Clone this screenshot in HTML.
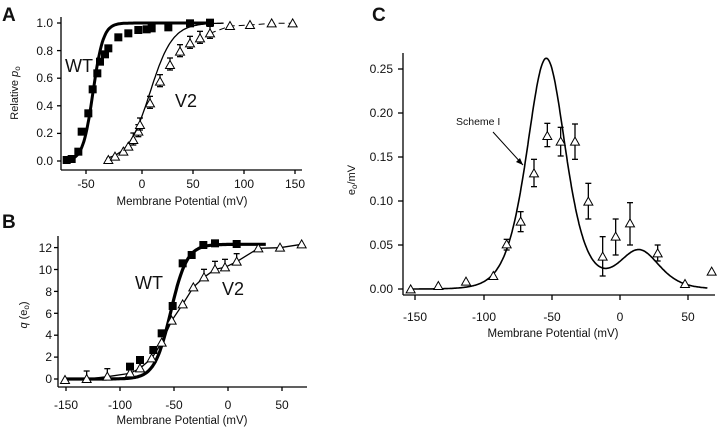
<!DOCTYPE html><html><head><style>body{margin:0;background:#fff}svg{display:block}text{font-family:"Liberation Sans",Arial,sans-serif;fill:#111}</style></head><body>
<svg id="s" width="720" height="430" viewBox="0 0 720 430" xmlns="http://www.w3.org/2000/svg">
<g font-size="12" stroke="none">
<text x="2" y="21" font-size="19" font-weight="bold">A</text>
<text x="2" y="228" font-size="19" font-weight="bold">B</text>
<text x="372" y="21" font-size="19" font-weight="bold">C</text>
<text x="53" y="27" text-anchor="end">1.0</text><text x="53" y="55" text-anchor="end">0.8</text><text x="53" y="82" text-anchor="end">0.6</text><text x="53" y="110" text-anchor="end">0.4</text><text x="53" y="137" text-anchor="end">0.2</text><text x="53" y="165" text-anchor="end">0.0</text>
<text x="86" y="188" text-anchor="middle">-50</text><text x="142" y="188" text-anchor="middle">0</text><text x="193" y="188" text-anchor="middle">50</text><text x="244" y="188" text-anchor="middle">100</text><text x="295" y="188" text-anchor="middle">150</text>
<text x="182" y="205" text-anchor="middle" font-size="11.5">Membrane Potential (mV)</text>
<text transform="translate(18,93) rotate(-90)" text-anchor="middle" font-size="11">Relative <tspan font-style="italic">p</tspan><tspan font-size="8" dy="2">o</tspan></text>
<text x="65" y="72" font-size="18">WT</text><text x="175" y="107" font-size="18">V2</text>
<text x="52" y="252" text-anchor="end">12</text><text x="52" y="274" text-anchor="end">10</text><text x="52" y="296" text-anchor="end">8</text><text x="52" y="318" text-anchor="end">6</text><text x="52" y="339" text-anchor="end">4</text><text x="52" y="361" text-anchor="end">2</text><text x="52" y="383" text-anchor="end">0</text>
<text x="66" y="409" text-anchor="middle">-150</text><text x="120" y="409" text-anchor="middle">-100</text><text x="174" y="409" text-anchor="middle">-50</text><text x="228" y="409" text-anchor="middle">0</text><text x="282" y="409" text-anchor="middle">50</text>
<text x="182" y="424" text-anchor="middle" font-size="11.5">Membrane Potential (mV)</text>
<text transform="translate(27,315) rotate(-90)" text-anchor="middle" font-size="11"><tspan font-style="italic">q</tspan> (e<tspan font-size="8" dy="2">o</tspan><tspan dy="-2">)</tspan></text>
<text x="135" y="289" font-size="18">WT</text><text x="222" y="295" font-size="18">V2</text>
<text x="393" y="73" text-anchor="end">0.25</text><text x="393" y="117" text-anchor="end">0.20</text><text x="393" y="161" text-anchor="end">0.15</text><text x="393" y="205" text-anchor="end">0.10</text><text x="393" y="249" text-anchor="end">0.05</text><text x="393" y="293" text-anchor="end">0.00</text>
<text x="415" y="321" text-anchor="middle">-150</text><text x="484" y="321" text-anchor="middle">-100</text><text x="552" y="321" text-anchor="middle">-50</text><text x="620" y="321" text-anchor="middle">0</text><text x="688" y="321" text-anchor="middle">50</text>
<text x="553" y="337" text-anchor="middle" font-size="11.5">Membrane Potential (mV)</text>
<text transform="translate(355,180) rotate(-90)" text-anchor="middle" font-size="11">e<tspan font-size="8" dy="2">o</tspan><tspan dy="-2">/mV</tspan></text>
<text x="456" y="125" font-size="10.5">Scheme I</text>
</g>
<g id="g" fill="none" stroke="#000" stroke-width="1.3"></g>
</svg>
<script>
var g=document.getElementById('g'),NS='http://www.w3.org/2000/svg';
function el(t,a){var e=document.createElementNS(NS,t);for(var k in a)e.setAttribute(k,a[k]);g.appendChild(e);return e}
function line(x1,y1,x2,y2,w){el('line',{x1:x1,y1:y1,x2:x2,y2:y2,'stroke-width':w||1.3})}
function path(pts,w,dash){el('path',{d:'M'+pts.map(p=>p[0].toFixed(1)+','+p[1].toFixed(1)).join('L'),'stroke-width':w||1.3,'stroke-dasharray':dash||'none'})}
function tri(x,y){el('path',{d:'M'+(x-4.5)+','+(y+3.5)+'L'+x+','+(y-4.5)+'L'+(x+4.5)+','+(y+3.5)+'Z',fill:'#fff','stroke-width':1})}
function sq(x,y){el('rect',{x:x-4,y:y-4,width:8,height:8,fill:'#000',stroke:'none'})}
function eb(x,y1,y2){line(x,y1,x,y2,1.3);line(x-3,y1,x+3,y1,1.3);line(x-3,y2,x+3,y2,1.3)}
line(61,17,61,170);line(61,170,302,170);
[[23],[50.6],[78.2],[105.8],[133.4],[161]].forEach(a=>line(57,a[0],61,a[0]));
[86,142,193,244,295].forEach(x=>line(x,170,x,174));
var xa=v=>142+1.02*v, ya=p=>161-138*p,pts=[];
for(var v=-75;v<=70;v+=1)pts.push([xa(v),ya(1/(1+Math.exp(-(v+48)/5)))]);path(pts,3);
pts=[];for(v=-35;v<=80;v+=1)pts.push([xa(v),ya(1/(1+Math.exp(-(v-8)/11)))]);path(pts,1.3);
var v2=[[325,480],[345,470],[370,455],[385,440],[400,420],[415,395],[420,375],[450,310],[480,245],[510,195],[540,155],[570,130],[600,115],[630,100],[690,78],[750,75],[815,70],[878,70]].map(p=>[p[0]/3,p[1]/3]);
path(v2.slice(13),1,'6,4');
v2.forEach((p,i)=>{if(i>3&&i<14)eb(p[0],p[1]-7,p[1]+5);tri(p[0],p[1])});
[[200,480],[215,477],[235,455],[245,395],[265,340],[278,268],[292,220],[300,185],[315,163],[325,145],[355,112],[385,100],[415,90],[440,88],[455,85],[505,82],[570,70],[630,68]].forEach(p=>sq(p[0]/3,p[1]/3));
line(58,236,58,387);line(58,387,307,387);
for(var i=0;i<=6;i++)line(54,379-i*21.9,58,379-i*21.9);
[66,120,174,228,282].forEach(x=>line(x,387,x,391));
var xb=v=>228+1.08*v,yb=q=>379-10.95*q;
var b2=[[195,540],[260,537],[322,530],[390,520],[420,505],[455,475],[485,428],[515,362],[548,313],[580,262],[612,232],[645,208],[675,202],[710,185],[775,145],[840,143],[905,133]].map(p=>[p[0]/3,200+p[1]/3]);
path(b2,1.3);
pts=[];for(v=-150;v<=35;v+=1)pts.push([xb(v),yb(12.3/(1+Math.exp(-(v+53)/7.5)))]);path(pts,3.2);
[[390,500],[420,480],[460,450],[485,400],[518,318],[548,190],[575,165],[610,135],[645,130],[710,132]].forEach(p=>sq(p[0]/3,200+p[1]/3));
b2.forEach((p,i)=>{if([1,2,10,11,12,13].includes(i))eb(p[0],p[1]-8,p[1]+1);tri(p[0],p[1])});
line(403,53,403,295);line(403,295,715,295);
for(i=0;i<=5;i++)line(398,289-i*44,403,289-i*44);
[415,484,552,620,688].forEach(x=>line(x,295,x,300));
var xc=v=>620+1.365*v,yc=e=>289-880*e,sech2=x=>1/Math.pow(Math.cosh(x),2);
pts=[];for(v=-155;v<=64;v+=0.5)pts.push([xc(v),yc(0.262*sech2((v+54)/19)+0.044*sech2((v-14)/20))]);path(pts,1.6);
line(493,132,523,165,1);el('path',{d:'M523,165 L516,162 L520,158Z',fill:'#000',stroke:'none'});
var C=[[152,868],[235,858],[318,845],[400,828],[440,733],[482,665],[522,520],[562,408],[602,425],[645,425],[685,605],[728,770],[767,710],[810,670],[893,760],[975,852],[1055,815]];
var E={440:[718,750],482:[635,695],522:[478,560],562:[370,440],602:[382,468],645:[372,478],685:[550,657],728:[710,828],767:[657,765],810:[608,735],893:[735,783]};
C.forEach(p=>{var x=360+p[0]/3,y=p[1]/3;if(E[p[0]])eb(x,E[p[0]][0]/3,E[p[0]][1]/3);tri(x,y)});
</script>
</body></html>
